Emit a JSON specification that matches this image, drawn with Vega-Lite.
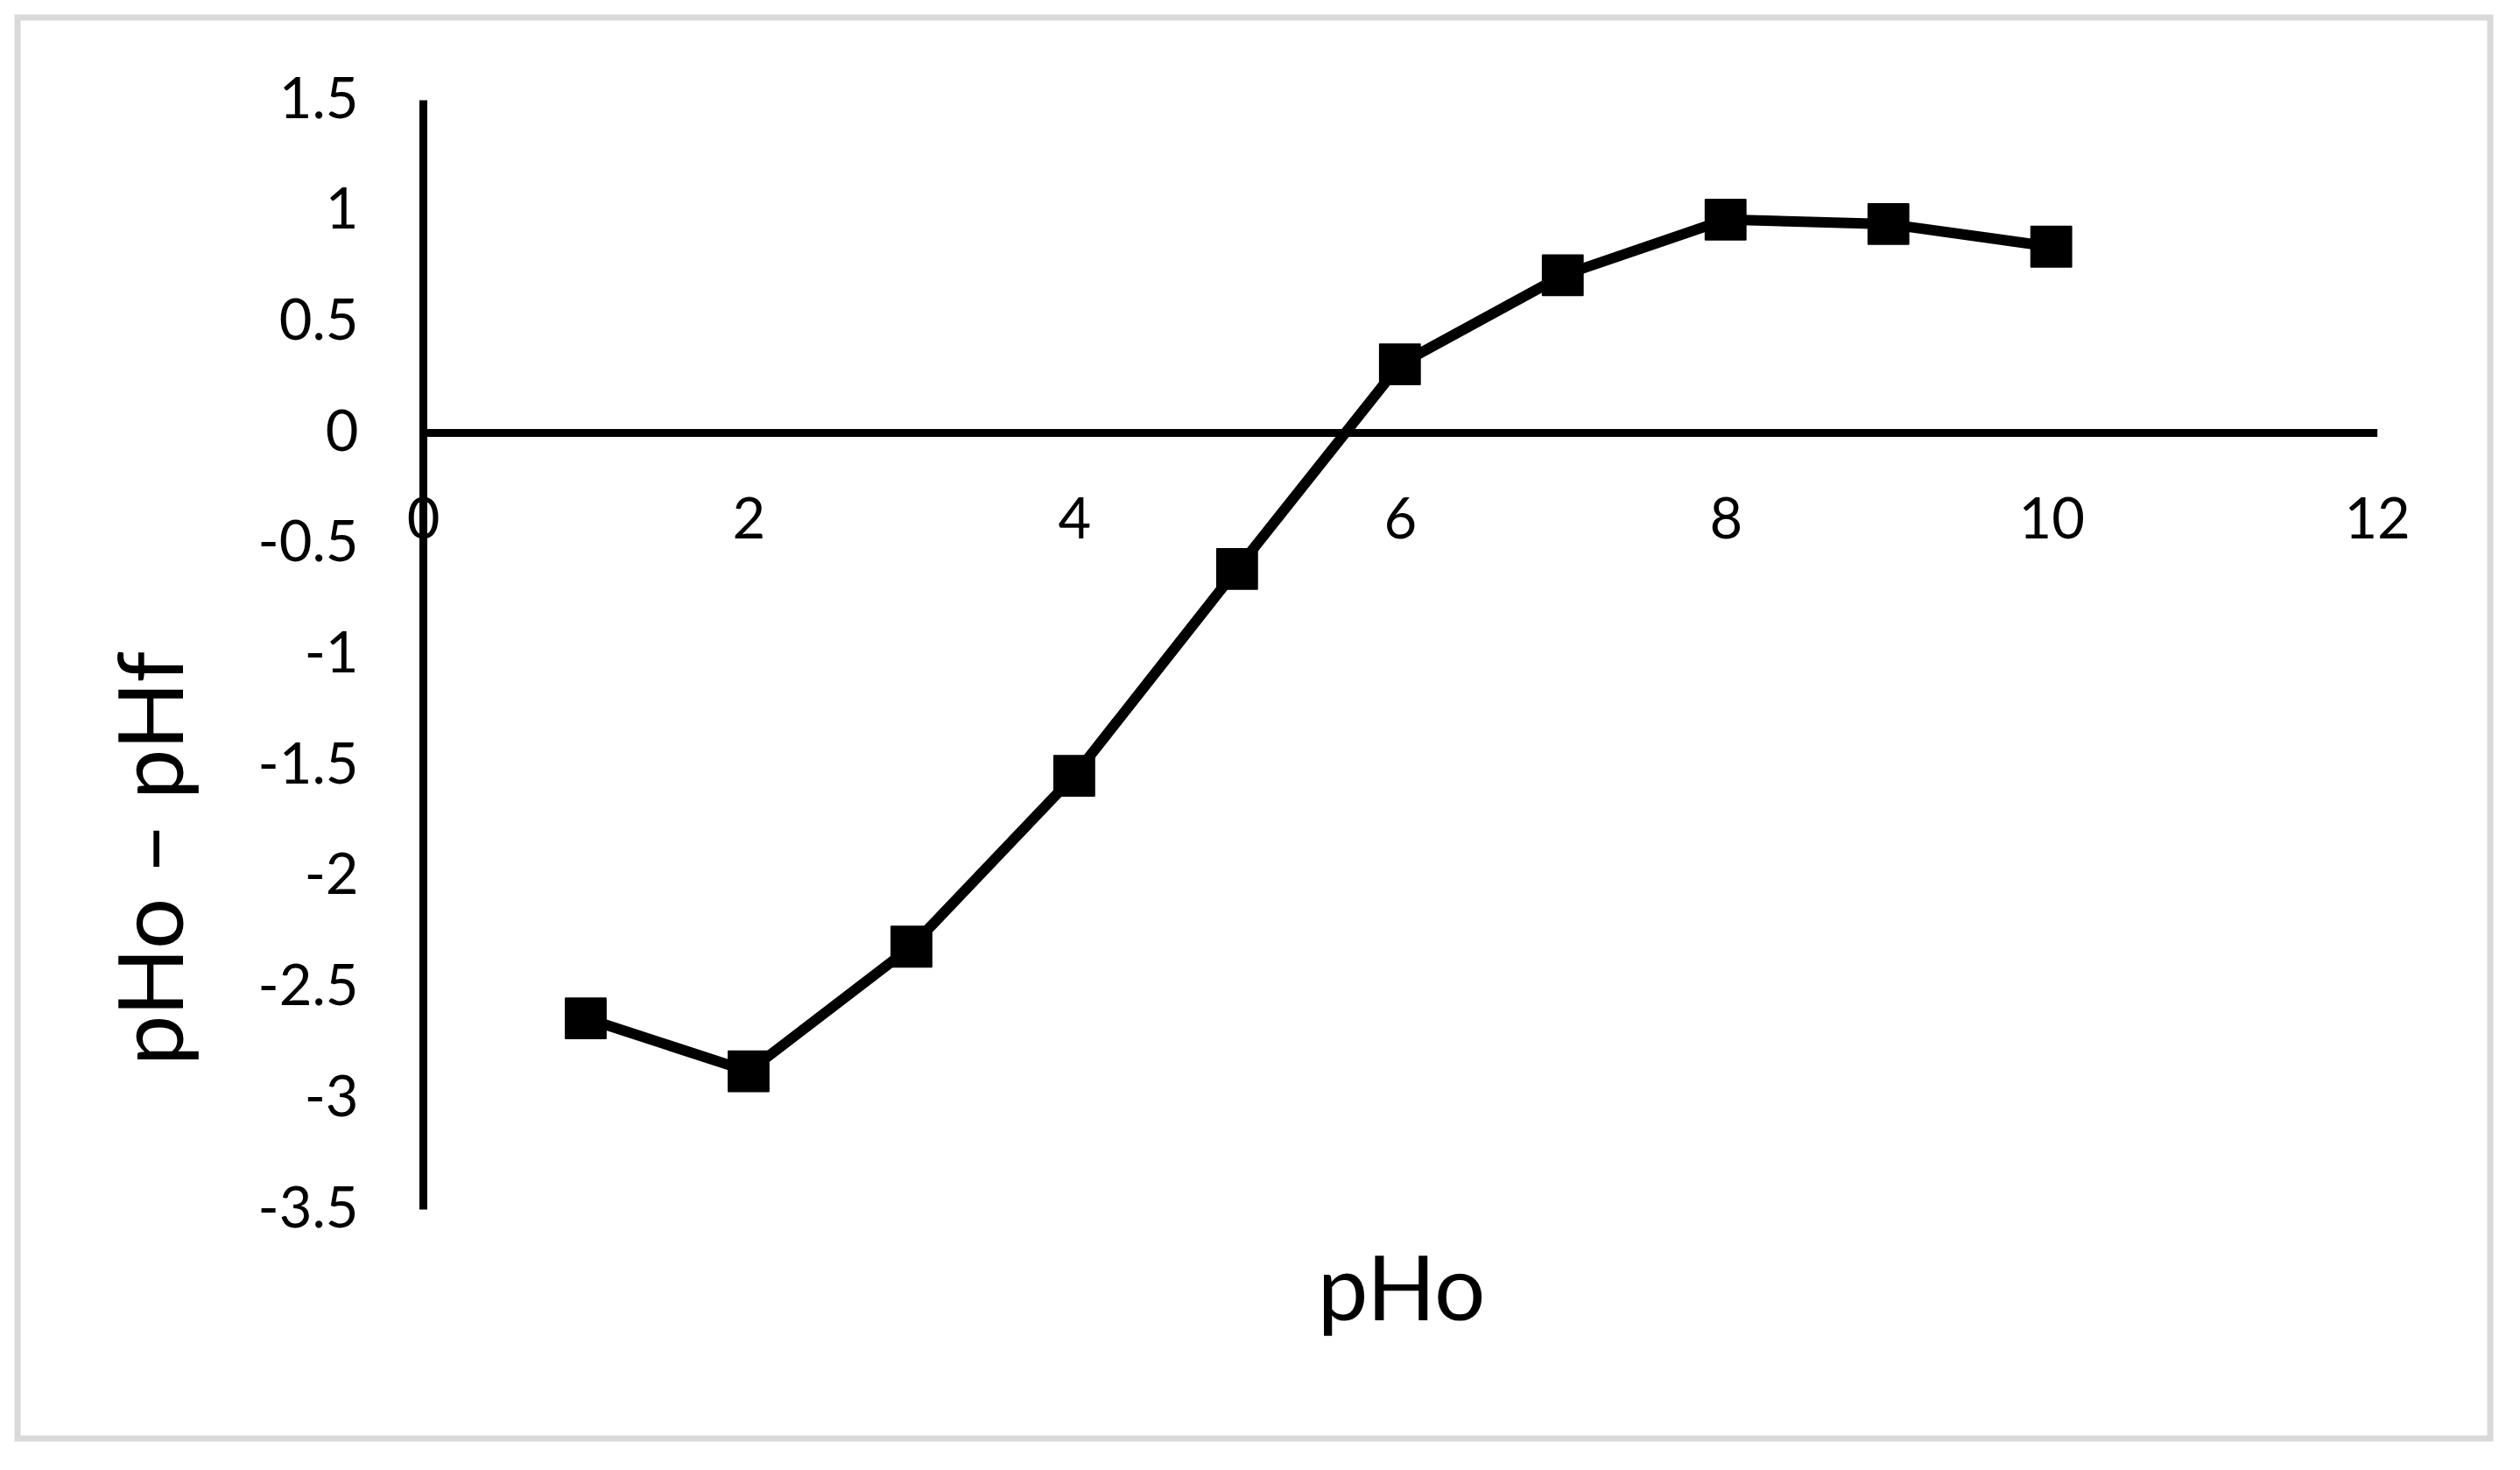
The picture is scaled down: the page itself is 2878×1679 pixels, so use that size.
{
  "$schema": "https://vega.github.io/schema/vega-lite/v6.json",
  "width": 2824,
  "height": 1623,
  "autosize": {"type": "none"},
  "padding": {"left": 20, "top": 20, "right": 34, "bottom": 36},
  "background": "white",
  "config": {
    "view": {"stroke": "#d9d9d9", "strokeWidth": 7},
    "font": "Lato"
  },
  "data": {
    "values": [
      {"pHo": 1, "diff": -2.64},
      {"pHo": 2, "diff": -2.879},
      {"pHo": 3, "diff": -2.317},
      {"pHo": 4, "diff": -1.547},
      {"pHo": 5, "diff": -0.615},
      {"pHo": 6, "diff": 0.308},
      {"pHo": 7, "diff": 0.709},
      {"pHo": 8, "diff": 0.96},
      {"pHo": 9, "diff": 0.94},
      {"pHo": 10, "diff": 0.838}
    ]
  },
  "encoding": {
    "x": {
      "field": "pHo",
      "type": "quantitative",
      "scale": {"domain": [0, 12], "range": [463, 2694.6], "nice": false, "zero": false},
      "axis": {
        "orient": "bottom",
        "offset": -1149,
        "values": [0, 2, 4, 6, 8, 10, 12],
        "grid": false,
        "ticks": false,
        "tickSize": 0,
        "domainColor": "black",
        "domainWidth": 9,
        "labelFont": "Lato",
        "labelFontSize": 65,
        "labelColor": "black",
        "labelPadding": 100,
        "labelBaseline": "middle",
        "labelFlush": false,
        "labelOverlap": false,
        "title": "pHo",
        "titleFont": "Lato",
        "titleFontSize": 103,
        "titleFontWeight": "normal",
        "titleColor": "black",
        "titleX": 1580,
        "titleY": 1013,
        "titleBaseline": "alphabetic",
        "titleAlign": "center"
      }
    },
    "y": {
      "field": "diff",
      "type": "quantitative",
      "scale": {"domain": [-3.5, 1.5], "range": [1361, 94], "nice": false, "zero": false},
      "axis": {
        "orient": "left",
        "offset": -463,
        "values": [-3.5, -3, -2.5, -2, -1.5, -1, -0.5, 0, 0.5, 1, 1.5],
        "labelExpr": "datum.value < 0 ? '-' + format(-datum.value, '~g') : format(datum.value, '~g')",
        "grid": false,
        "ticks": false,
        "tickSize": 0,
        "domainColor": "black",
        "domainWidth": 9,
        "labelFont": "Lato",
        "labelFontSize": 65,
        "labelColor": "black",
        "labelPadding": 74,
        "labelBaseline": "middle",
        "labelAlign": "right",
        "labelFlush": false,
        "labelOverlap": false,
        "title": "pHo – pHf",
        "titleFont": "Lato",
        "titleFontSize": 103,
        "titleFontWeight": "normal",
        "titleColor": "black",
        "titleAngle": 270,
        "titleX": -275,
        "titleY": 960,
        "titleBaseline": "alphabetic",
        "titleAlign": "center"
      }
    }
  },
  "layer": [
    {"mark": {"type": "line", "color": "black", "strokeWidth": 12}},
    {"mark": {"type": "point", "shape": "square", "filled": true, "color": "black", "size": 2100, "opacity": 1, "stroke": "black", "strokeWidth": 2, "strokeJoin": "round"}}
  ]
}
